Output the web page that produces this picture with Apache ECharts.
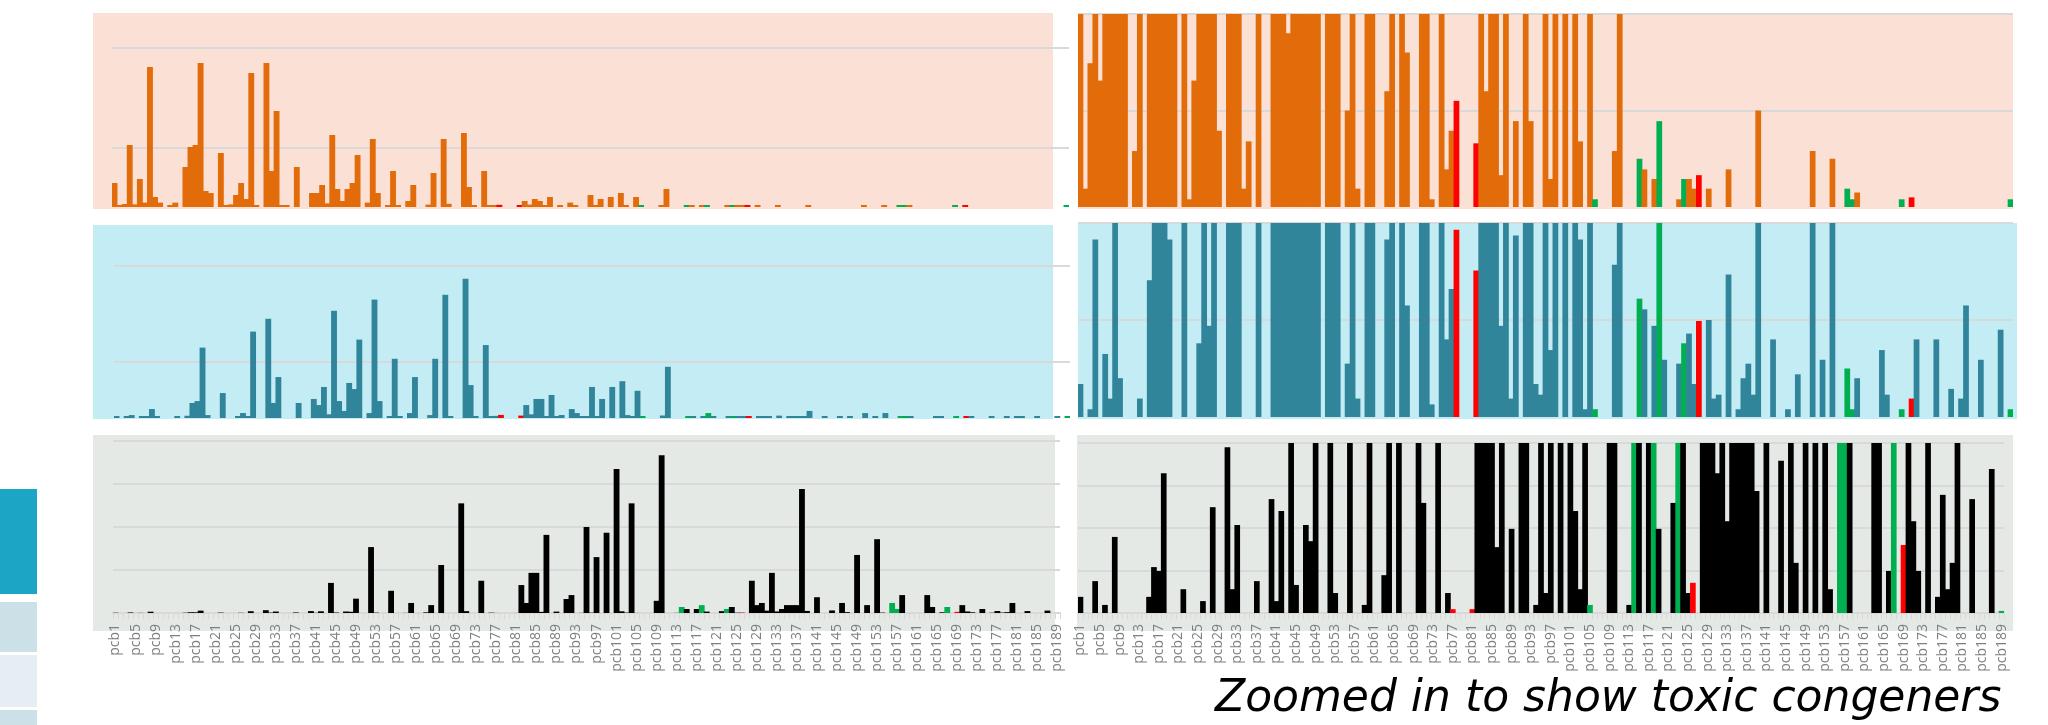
<!DOCTYPE html>
<html>
<head>
<meta charset="utf-8">
<title>PCB congeners</title>
<script src="https://cdn.jsdelivr.net/npm/echarts@6/dist/echarts.min.js"></script>
<style>
  html, body { margin: 0; padding: 0; background: #fff; }
  #main { width: 2048px; height: 725px; }
</style>
</head>
<body>
<div id="main"></div>
<script>
// categories pcb1 .. pcb189
var categories = [];
for (var i = 1; i <= 189; i++) categories.push('pcb' + i);

// congeners drawn in red / green
var redCongeners = [77, 81, 126, 169];
var greenCongeners = [105, 114, 118, 123, 156, 157, 167, 189];

// top row (orange)
var topValues = [
  12, 0.19, 1.49, 31, 1.31, 14, 2.2, 70, 5, 2.2,
  null, 0.58, 2.2, null, 20, 30, 31, 72, 8, 7,
  null, 27, 0.08, 1.31, 6, 12, 4, 67, 0.79, null,
  72, 18, 48, 0.19, 0.68, null, 20, null, null, 7,
  7, 11, 1.8, 36, 9, 3, 9, 12, 26, null,
  2.2, 34, 7, null, 1.0, 18, 0.19, null, 3, 11,
  null, null, 1.2, 17, null, 34, 1.6, null, null, 37,
  10, 0.08, null, 18, 0.39, 0.79, 1.1, null, null, null,
  0.66, 3, 1.2, 4, 3, 0.33, 5, null, 0.89, null,
  2.2, 0.89, null, null, 6, 0.29, 4, null, 5, null,
  7, 0.68, null, 5, 0.08, null, null, null, 0.58, 9,
  null, null, null, 0.5, 0.39, null, 0.29, 0.89, null, null,
  null, 0.08, 0.29, 0.29, 0.19, 0.33, null, 0.19, null, null,
  null, 0.39, null, null, null, null, null, 1.0, null, null,
  null, null, null, null, null, null, null, null, 0.58, null,
  null, null, 0.5, null, null, 0.19, 0.08, 0.15, null, null,
  null, null, null, null, null, null, 0.08, null, 0.1, null,
  null, null, null, null, null, null, null, null, null, null,
  null, null, null, null, null, null, null, null, 0.08
];

// middle row (teal)
var midValues = [
  0.34, null, 0.08, 1.83, null, 0.65, 0.19, 5.6, 0.4, null,
  null, null, 0.19, null, 1.41, 9.4, 10.6, 44, 1.83, null,
  null, 15.6, null, null, 0.76, 3.1, 0.94, 54, null, null,
  62, 9.4, 25.6, null, null, null, 9.4, null, null, 11.9,
  8.1, 19.4, 2.3, 67, 10.6, 4.4, 21.9, 18.1, 49, null,
  3.1, 74, 10.6, null, 0.55, 37, 0.19, null, 3.1, 25.6,
  null, null, 1.83, 37, null, 77, 1.15, null, null, 87,
  20.6, 0.13, null, 45.6, 0.8, 1.32, 1.93, null, null, null,
  1.51, 8.1, 2.3, 11.9, 11.9, 0.94, 14.4, 0.19, 1.87, null,
  5.6, 3.1, 0.34, 0.23, 19.4, 0.69, 11.9, null, 19.4, null,
  23, 1.83, 0.08, 17, 0.08, null, null, null, 1.57, 32,
  null, null, null, 1.22, 1.11, null, 0.94, 3.1, 0.59, null,
  null, 0.55, 0.76, 0.86, 0.34, 0.99, null, 1.0, 0.19, 0.23,
  null, 1.47, null, 0.08, 0.4, 0.55, 0.23, 4.4, null, null,
  0.8, null, null, 0.08, null, 0.44, null, null, 3.1, null,
  0.59, null, 3.1, null, null, 0.5, 0.08, 0.4, null, null,
  null, null, 0.69, 0.23, null, null, 0.08, null, 0.19, 0.8,
  null, null, null, 0.8, null, null, 0.29, null, 0.19, 1.15,
  null, null, 0.59, null, null, null, 0.9, null, 0.08
];

// bottom row (black)
var botValues = [
  0.38, null, null, 0.75, null, 0.19, null, 1.79, null, null,
  null, null, null, null, 0.38, 1.08, 0.99, 3.29, null, null,
  null, 0.56, null, null, null, 0.28, null, 2.49, null, null,
  3.9, 0.56, 2.07, null, null, null, 0.75, null, null, 2.68,
  0.28, 2.4, null, 42, 0.66, null, 2.07, 1.69, 20, null,
  null, 92, 0.47, null, null, 31, null, null, 0.19, 14,
  null, null, 0.89, 11, null, 67, null, null, null, 153,
  2.59, null, null, 45, null, 0.47, 0.09, null, null, null,
  0.09, 39, 14, 56, 56, 1.55, 109, null, 1.98, null,
  19.5, 25, null, 0.19, 120, 0.47, 78, null, 112, null,
  201, 2.4, 0.56, 153, 0.19, null, null, null, 17, 220,
  null, null, 0.19, 8.4, 5.6, null, 5.6, 11, 1.98, null,
  null, 2.59, 5.6, 8.4, 0.47, 0.71, null, 45, 11, 14,
  3.29, 56, 2.16, 5.6, 11, 11, 11, 173, 2.87, null,
  22, null, null, 3.58, null, 14, 1.18, null, 81, null,
  11, null, 103, 0.56, null, 14, 5.6, 25, null, null,
  null, null, 25, 8.4, null, 0.99, 8.4, null, 1.6, 11,
  2.16, 0.99, null, 5.6, null, 0.38, 2.78, 0.56, 1.18, 14,
  null, null, 2.68, null, null, null, 3.39, null, 0.05
];

var myChart = echarts.init(document.getElementById('main'));

// each bar gets its own colour (red / green for the toxic congeners)
function colouredData(values, base) {
  return values.map(function (v, k) {
    var n = k + 1;
    var c = base;
    if (redCongeners.indexOf(n) >= 0) c = '#FF0000';
    else if (greenCongeners.indexOf(n) >= 0) c = '#00B050';
    return { value: v, itemStyle: { color: c } };
  });
}

var gridLine = { show: true, showMinLine: false, lineStyle: { color: '#D9D9D9', width: 2 } };

function valueAxis(idx, min, max, interval) {
  return {
    type: 'value', gridIndex: idx, min: min, max: max, interval: interval,
    axisLine: { show: false }, axisTick: { show: false }, axisLabel: { show: false },
    splitLine: gridLine
  };
}

function catAxis(idx, labels) {
  if (!labels) {
    return { type: 'category', gridIndex: idx, data: categories, show: false };
  }
  return {
    type: 'category', gridIndex: idx, data: categories,
    axisLine: { lineStyle: { color: '#D9D9D9', width: 2 } },
    axisTick: { show: true, interval: 0, length: 6, lineStyle: { color: '#D9D9D9' } },
    axisLabel: {
      interval: 3, rotate: 90, margin: 11,
      fontFamily: 'Open Sans', fontSize: 14, color: '#7F7F7F'
    }
  };
}

// slightly negative gap so neighbouring bars merge into solid blocks
function barSeries(idx, data, color, minH) {
  return {
    type: 'bar', xAxisIndex: idx, yAxisIndex: idx, data: colouredData(data, color),
    barCategoryGap: '-16%', barMinHeight: minH, clip: true,
    silent: true
  };
}

// panel backgrounds and slide decorations
var bg = [
  [93, 13, 960, 196, '#FBE0D6'], [1078, 13, 935, 196, '#FBE0D6'],
  [93, 225, 960, 194, '#C4ECF5'], [1078, 223, 939, 196, '#C4ECF5'],
  [93, 435, 962, 196, '#E4E9E6'], [1077, 435, 936, 196, '#E4E9E6'],
  [0, 489, 37, 105, '#1CA5C4'], [0, 602, 37, 50, '#CCE0E8'],
  [0, 655, 37, 52, '#E4EEF3'], [0, 710, 37, 15, '#CCE0E8']
];

var option = {
  animation: false,
  grid: [
    { left: 112, top: 48, width: 957, height: 200, outerBoundsMode: 'none' },
    { left: 1078, top: 14, width: 935, height: 193, outerBoundsMode: 'none' },
    { left: 114, top: 266, width: 956, height: 192, outerBoundsMode: 'none' },
    { left: 1078, top: 223, width: 935, height: 194, outerBoundsMode: 'none' },
    { left: 113, top: 441, width: 947, height: 172, outerBoundsMode: 'none' },
    { left: 1078, top: 443, width: 926, height: 170, outerBoundsMode: 'none' }
  ],
  xAxis: [catAxis(0), catAxis(1), catAxis(2), catAxis(3), catAxis(4, true), catAxis(5, true)],
  yAxis: [
    valueAxis(0, -20.5, 79.5, 50),
    valueAxis(1, 0, 2, 1),
    valueAxis(2, -25, 95, 60),
    valueAxis(3, 0, 2, 1),
    valueAxis(4, 0, 240, 60),
    valueAxis(5, 0, 4, 1)
  ],
  series: [
    barSeries(0, topValues, '#E36C0A', 2),
    barSeries(1, topValues, '#E36C0A', 0),
    barSeries(2, midValues, '#31859B', 2),
    barSeries(3, midValues, '#31859B', 0),
    barSeries(4, botValues, '#000000', 0),
    barSeries(5, botValues, '#000000', 0)
  ],
  graphic: bg.map(function (r) {
    return {
      type: 'rect', z: -100, silent: true,
      shape: { x: r[0], y: r[1], width: r[2], height: r[3] },
      style: { fill: r[4] }
    };
  }).concat([{
    type: 'text', left: 1215, top: 678, silent: true,
    style: { text: 'Zoomed in to show toxic congeners', font: 'italic 44px "DejaVu Sans"', fill: '#000' }
  }])
};

myChart.setOption(option);
</script>
</body>
</html>
